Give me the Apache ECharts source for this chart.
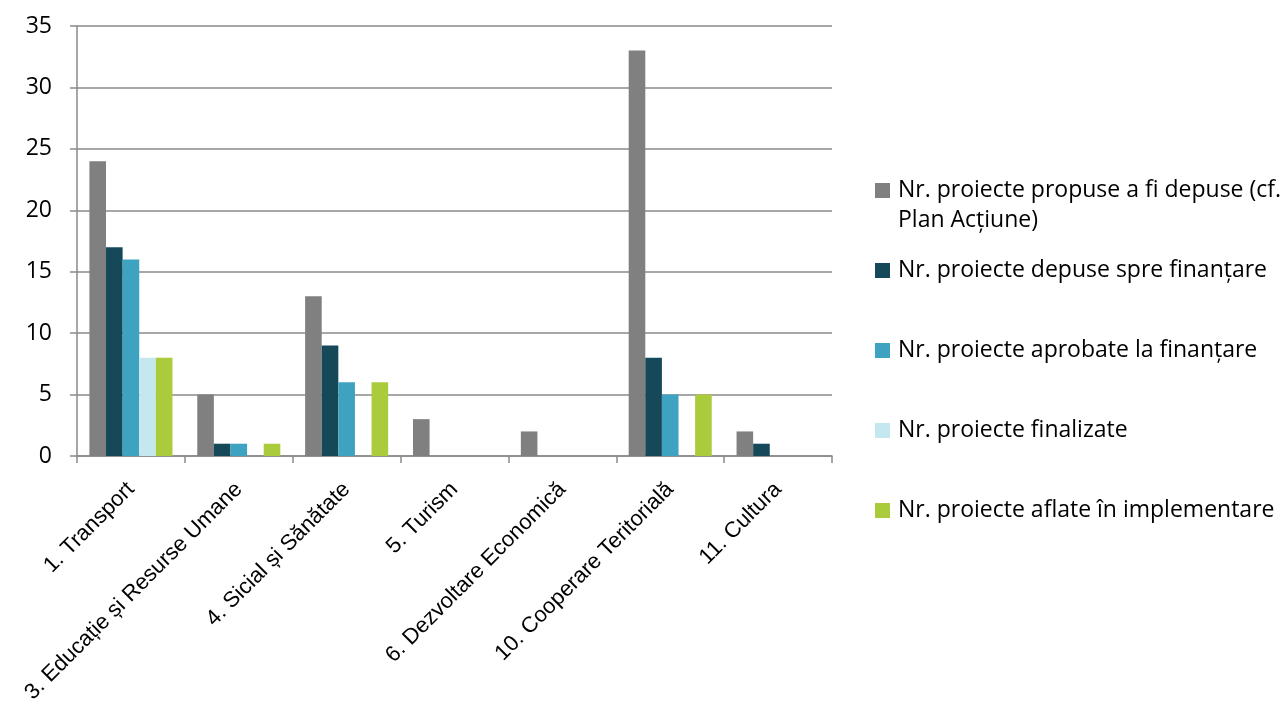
<!DOCTYPE html>
<html>
<head>
<meta charset="utf-8">
<script src="https://cdn.jsdelivr.net/npm/echarts@6/dist/echarts.min.js"></script>
<style>
html,body{margin:0;padding:0;background:#fff;}
#chart{width:1288px;height:713px;}
</style>
</head>
<body>
<div id="chart"></div>
<script>
const categories = ["1. Transport", "3. Educație și Resurse Umane", "4. Sicial și Sănătate", "5. Turism", "6. Dezvoltare Economică", "10. Cooperare Teritorială", "11. Cultura"];
const seriesNames = [
  "Nr. proiecte propuse a fi depuse (cf. Plan Acțiune)",
  "Nr. proiecte depuse spre finanțare",
  "Nr. proiecte aprobate la finanțare",
  "Nr. proiecte finalizate",
  "Nr. proiecte aflate în implementare"
];
const propuse = [24, 5, 13, 3, 2, 33, 2];
const depuse = [17, 1, 9, 0, 0, 8, 1];
const aprobate = [16, 1, 6, 0, 0, 5, 0];
const finalizate = [8, 0, 0, 0, 0, 0, 0];
const implementare = [8, 1, 6, 0, 0, 5, 0];
const yTicks = [0, 5, 10, 15, 20, 25, 30, 35];
const colors = ["#808080", "#15495a", "#3ea3c0", "#c5e8f0", "#aacb3b"];

const values = [propuse, depuse, aprobate, finalizate, implementare];
const chart = echarts.init(document.getElementById('chart'), null, {renderer: 'canvas'});
const gridColor = '#8a8a8a';
chart.setOption({
  animation: false,
  backgroundColor: '#ffffff',
  color: colors,
  grid: {left: 77, right: 456, top: 26, bottom: 257, containLabel: false},
  xAxis: {
    type: 'category',
    data: categories,
    axisLine: {lineStyle: {color: gridColor, width: 1.5}},
    axisTick: {show: true, length: 7, lineStyle: {color: gridColor, width: 1.5}},
    axisLabel: {
      interval: 0, rotate: 45, margin: 30, hideOverlap: false,
      fontFamily: 'Liberation Sans', fontSize: 22, color: '#000'
    }
  },
  yAxis: {
    type: 'value',
    min: yTicks[0], max: yTicks[yTicks.length - 1], interval: 5,
    axisLine: {show: true, lineStyle: {color: gridColor, width: 1.5}},
    axisTick: {show: true, length: 7, lineStyle: {color: gridColor, width: 1.5}},
    splitLine: {show: true, lineStyle: {color: gridColor, width: 1.5}},
    axisLabel: {margin: 25, fontFamily: 'Open Sans', fontSize: 23, color: '#000'}
  },
  legend: {
    orient: 'vertical',
    left: 875, top: 179, padding: 0,
    itemGap: 57,
    itemWidth: 15, itemHeight: 15,
    icon: 'rect',
    data: seriesNames,
    formatter: function (name) {
      return name === seriesNames[0] ? 'Nr. proiecte propuse a fi depuse (cf.' : name;
    },
    textStyle: {fontFamily: 'Open Sans', fontSize: 23, color: '#000', padding: [0, 0, 0, 3]}
  },
  graphic: [{
    type: 'text', left: 898, top: 209,
    style: {text: 'Plan Acțiune)', font: '23px "Open Sans"', fill: '#000'}
  }],
  series: seriesNames.map((n, i) => ({
    name: n, type: 'bar', data: values[i],
    barGap: '0%', barCategoryGap: '23%',
    itemStyle: {color: colors[i]}
  }))
});
</script>
</body>
</html>
